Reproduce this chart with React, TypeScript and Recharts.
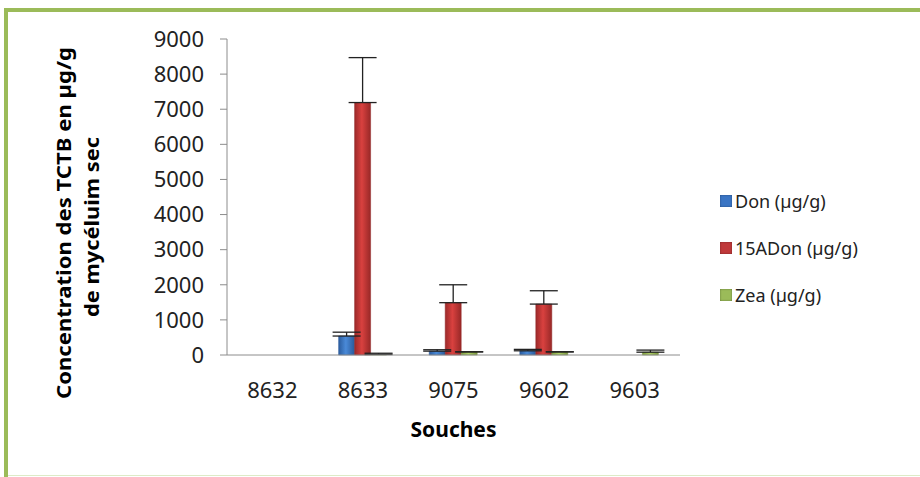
import { BarChart, Bar, XAxis, YAxis, ErrorBar, Label } from 'recharts';

const souches = ['8632', '8633', '9075', '9602', '9603'];
const donValues = [0, 540, 110, 120, 0];
const donErrors = [0, 110, 40, 40, 0];
const aDonValues = [0, 7190, 1490, 1450, 0];
const aDonErrors = [0, 1280, 510, 380, 0];
const zeaValues = [0, 15, 90, 90, 80];
const zeaErrors = [0, 35, 0, 0, 60];
const yTicks = [0, 1000, 2000, 3000, 4000, 5000, 6000, 7000, 8000, 9000];

const seriesNames = ['Don (µg/g)', '15ADon (µg/g)', 'Zea (µg/g)'];
const seriesColors = ['#3A75C4', '#C0393B', '#9BBB59'];

const chartData = souches.map((s, i) => ({
  souche: s,
  don: donValues[i],
  donErr: [0, donErrors[i]],
  aDon: aDonValues[i],
  aDonErr: [0, aDonErrors[i]],
  zea: zeaValues[i],
  zeaErr: [0, zeaErrors[i]],
}));

const FONT = '"Noto Sans", "Open Sans", sans-serif';

// two-line rotated y axis title
const YTitle = () => (
  <g fontFamily={FONT} fontWeight="bold" fontSize={20} fill="#000">
    <text
      x={63}
      y={223}
      transform="rotate(-90 63 223)"
      textAnchor="middle"
      dominantBaseline="central"
      textLength={352}
      lengthAdjust="spacingAndGlyphs"
    >
      Concentration des TCTB en µg/g
    </text>
    <text
      x={91}
      y={227}
      transform="rotate(-90 91 227)"
      textAnchor="middle"
      dominantBaseline="central"
      textLength={180}
      lengthAdjust="spacingAndGlyphs"
    >
      de mycéluim sec
    </text>
  </g>
);

const App = () => {
  return (
    <div style={{ position: 'fixed', left: 0, top: 0, width: 920, height: 477, background: '#fff' }}>
      {/* frame */}
      <div style={{ position: 'absolute', left: 4, top: 8, width: 916, height: 4, background: '#9BBB59' }} />
      <div style={{ position: 'absolute', left: 4, top: 8, width: 4, height: 469, background: '#9BBB59' }} />
      <div style={{ position: 'absolute', left: 8, top: 475, width: 912, height: 1, background: '#DDEBC7' }} />
      <div style={{ position: 'absolute', left: 0, top: 0 }}>
        <BarChart
          width={920}
          height={477}
          data={chartData}
          margin={{ top: 39, right: 240, left: 157, bottom: 32 }}
          barSize={16}
          barGap={0}
        >
          <defs>
            <linearGradient id="gBlue" x1="0" y1="0" x2="1" y2="0">
              <stop offset="0%" stopColor="#2B5C9E" />
              <stop offset="45%" stopColor="#4A8AD8" />
              <stop offset="100%" stopColor="#2A5A9A" />
            </linearGradient>
            <linearGradient id="gRed" x1="0" y1="0" x2="1" y2="0">
              <stop offset="0%" stopColor="#9C2A2A" />
              <stop offset="45%" stopColor="#D9413F" />
              <stop offset="100%" stopColor="#982827" />
            </linearGradient>
            <linearGradient id="gGreen" x1="0" y1="0" x2="1" y2="0">
              <stop offset="0%" stopColor="#7D9B3E" />
              <stop offset="45%" stopColor="#AFD066" />
              <stop offset="100%" stopColor="#7A973C" />
            </linearGradient>
          </defs>
          <XAxis
            dataKey="souche"
            height={90}
            tickLine={false}
            tickMargin={21}
            axisLine={{ stroke: '#8C8C8C' }}
            tick={{ fontFamily: FONT, fontSize: 22, fill: '#222' }}
            interval={0}
          >
            <Label
              value="Souches"
              position="insideBottom"
              offset={8}
              style={{ fontFamily: FONT, fontWeight: 'bold', fontSize: 21, fill: '#000' }}
            />
          </XAxis>
          <YAxis
            domain={[0, 9000]}
            ticks={yTicks}
            interval={0}
            width={70}
            tickSize={7}
            tickMargin={16}
            axisLine={{ stroke: '#8C8C8C' }}
            tickLine={{ stroke: '#8C8C8C' }}
            tick={{ fontFamily: FONT, fontSize: 22, fill: '#222' }}
          />
          <Bar dataKey="don" name={seriesNames[0]} fill="url(#gBlue)" stroke="#2B5C9E" strokeWidth={0.5} isAnimationActive={false}>
            <ErrorBar dataKey="donErr" width={14} stroke="#222" strokeWidth={1.3} />
          </Bar>
          <Bar dataKey="aDon" name={seriesNames[1]} fill="url(#gRed)" stroke="#8E2524" strokeWidth={0.5} isAnimationActive={false}>
            <ErrorBar dataKey="aDonErr" width={14} stroke="#222" strokeWidth={1.3} />
          </Bar>
          <Bar dataKey="zea" name={seriesNames[2]} fill="url(#gGreen)" stroke="#7A973C" strokeWidth={0.5} isAnimationActive={false}>
            <ErrorBar dataKey="zeaErr" width={14} stroke="#222" strokeWidth={1.3} />
          </Bar>
          <YTitle />
        </BarChart>
      </div>
      <div style={{ position: 'absolute', left: 720, top: 177, fontFamily: FONT, fontSize: 18, color: '#222' }}>
        {seriesNames.map((name, i) => (
          <div key={name} style={{ display: 'flex', alignItems: 'center', height: 47 }}>
            <div
              style={{
                width: 12,
                height: 12,
                marginRight: 3,
                background: seriesColors[i],
                boxShadow: 'inset 0 0 2px rgba(0,0,0,0.45)',
              }}
            />
            <span>{name}</span>
          </div>
        ))}
      </div>
    </div>
  );
};

export default App;
